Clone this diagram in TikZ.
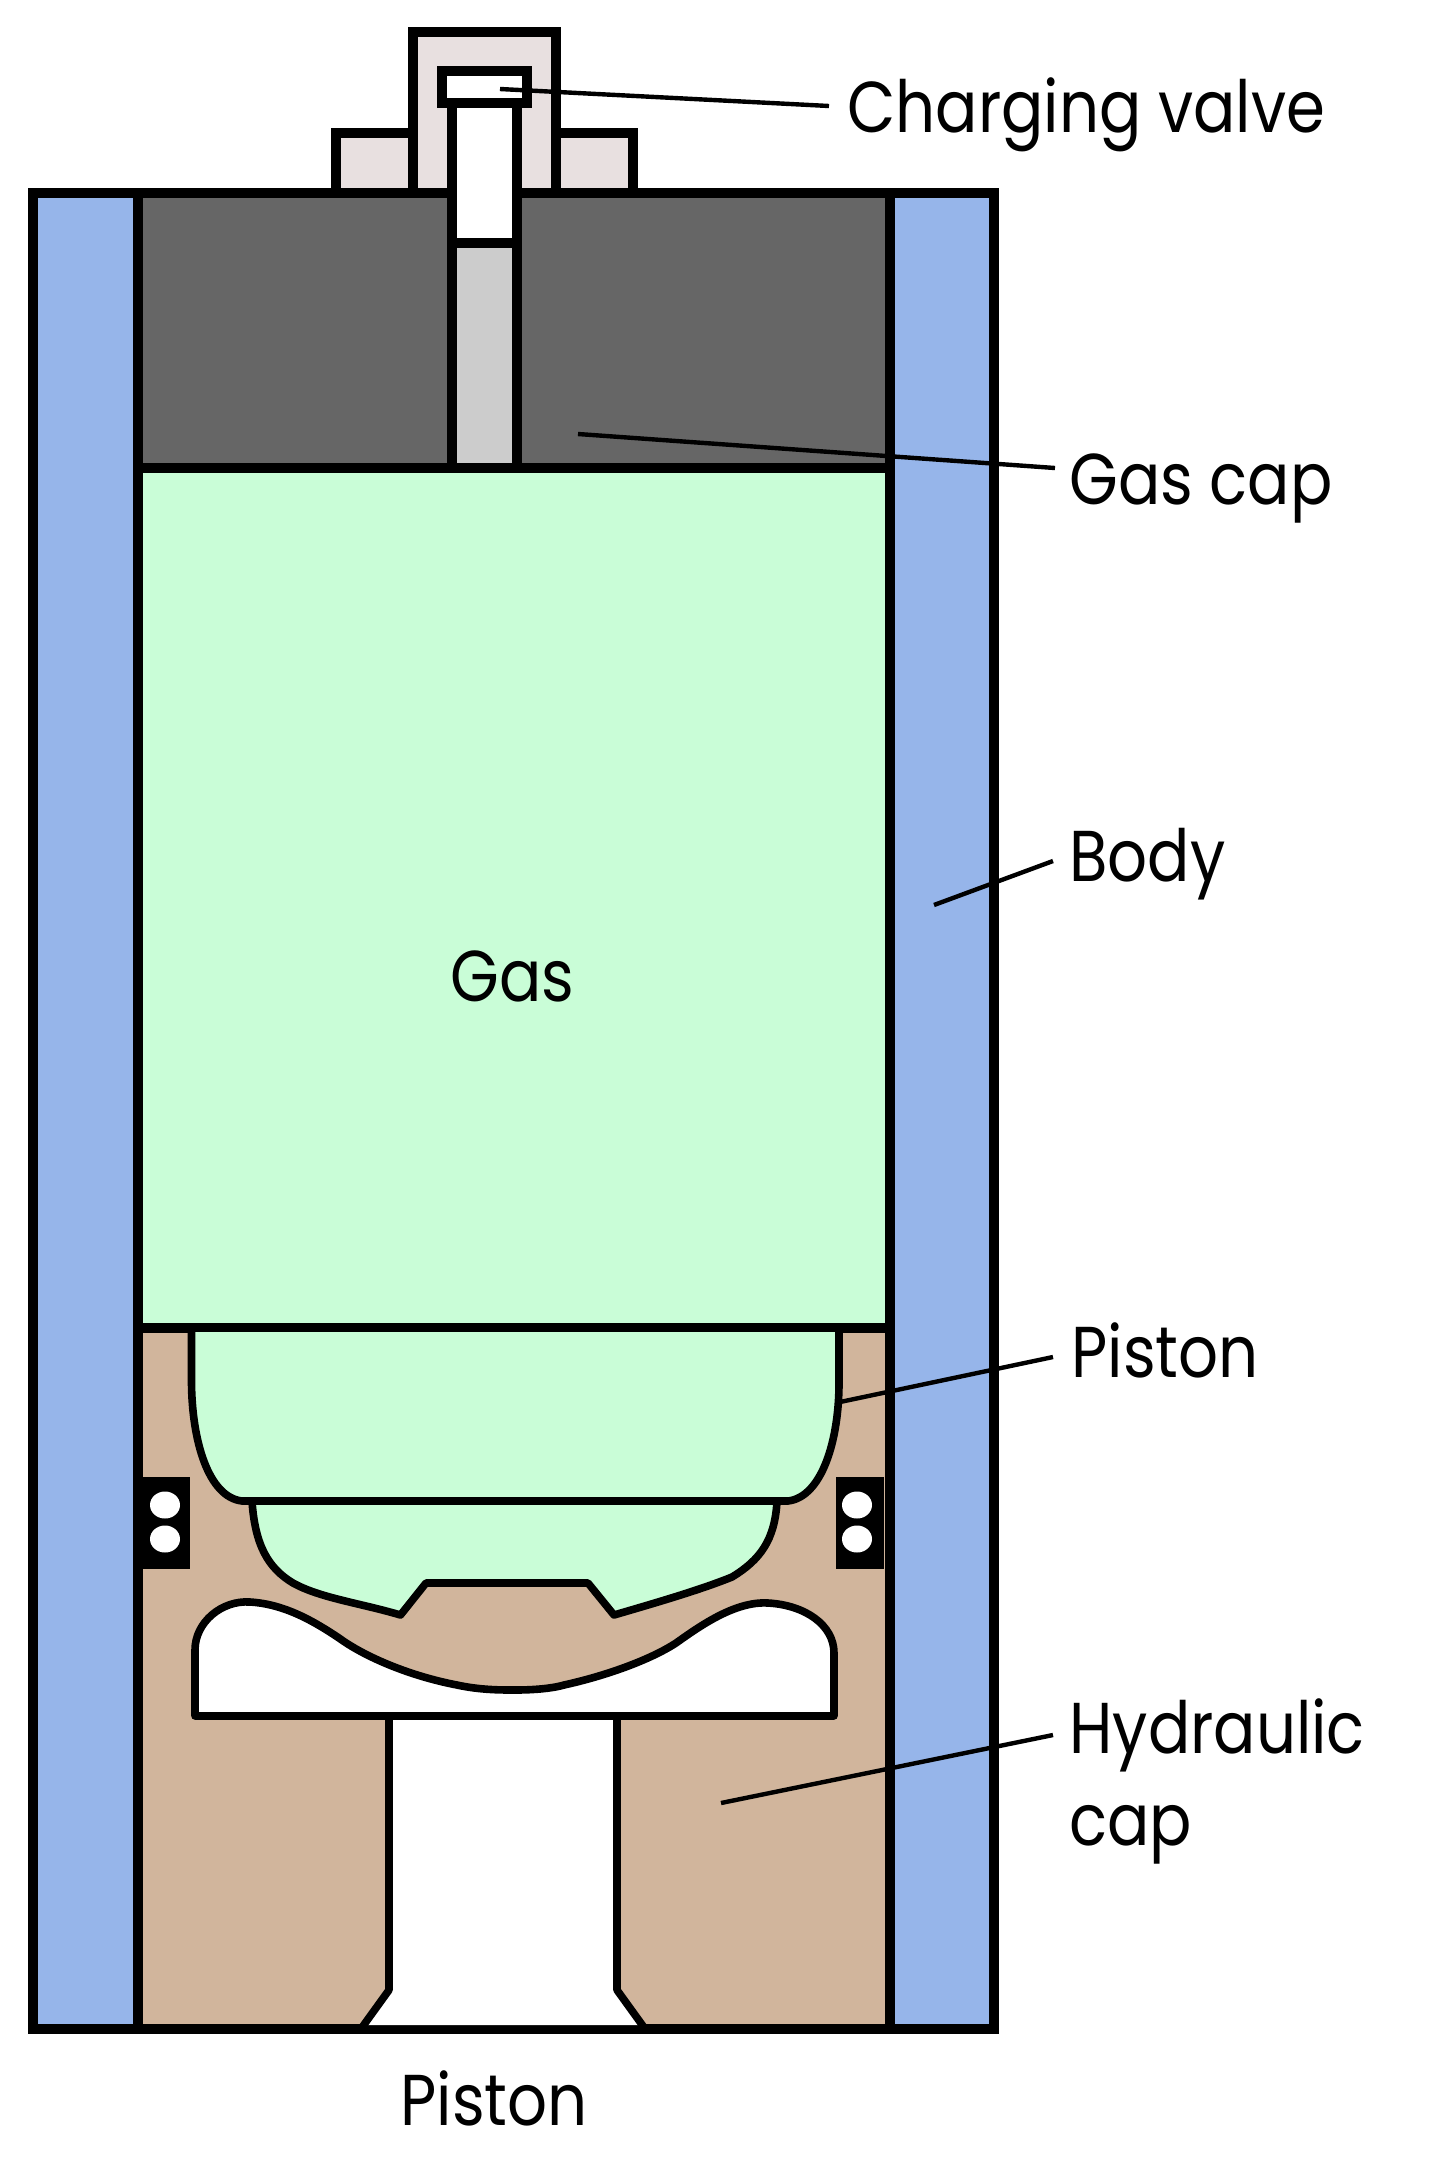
\documentclass[tikz,border=0pt]{standalone}
\usepackage{fontspec}
\setmainfont{Poppins}[FakeStretch=0.87]
\definecolor{capgrey}{HTML}{666666}
\definecolor{stemgrey}{HTML}{CCCCCC}
\definecolor{gasgreen}{HTML}{C9FDD7}
\definecolor{bodyblue}{HTML}{96B5EA}
\definecolor{hydtan}{HTML}{D1B59C}
\definecolor{valvepink}{HTML}{E8E0E0}
\tikzset{
  part/.style={draw=black,line width=5pt,line join=miter},
  thin part/.style={draw=black,line width=3.8pt,line join=round},
  leader/.style={draw=black,line width=2.2pt},
  label/.style={font=\fontsize{36}{42}\selectfont,anchor=base west,inner sep=0pt,text=black},
}
\begin{document}
\begin{tikzpicture}[x=0.5pt,y=-0.5pt]
\useasboundingbox (0,0) rectangle (1440,2159);
% valve housing and lugs
\path[part,fill=valvepink] (335.5,193) -- (335.5,132.5) -- (633,132.5) -- (633,193) -- cycle;
\path[part,fill=valvepink] (413,193) -- (413,32) -- (555.5,32) -- (555.5,193) -- cycle;
% outer body
\path[part,fill=bodyblue] (33,193) rectangle (994,2029);
% gas cap
\path[part,fill=capgrey] (138,193) rectangle (890,468);
% gas chamber
\path[part,fill=gasgreen] (138,468) rectangle (890,1328);
% hydraulic cap
\path[part,fill=hydtan] (138,1328) rectangle (890,2029);
% piston upper
\path[thin part,fill=gasgreen]
  (191.5,1328) -- (191.5,1383) .. controls (192,1440) and (208,1497) .. (242,1501)
  -- (788,1501) .. controls (822,1497) and (839,1440) .. (839,1383) -- (839,1328) -- cycle;
% piston lower
\path[thin part,fill=gasgreen]
  (252,1501) .. controls (255,1545) and (268,1568) .. (293,1583)
  .. controls (320,1598) and (360,1603) .. (400.5,1615)
  -- (426,1583) -- (588,1583) -- (614,1615)
  .. controls (655,1603) and (700,1590) .. (732,1577)
  .. controls (760,1560) and (775,1540) .. (777,1501) -- cycle;
% piston rod bore
\fill[white] (363,2025) -- (389,1990) -- (389,1716) -- (617,1716) -- (617,1990) -- (643,2025) -- cycle;
\draw[thin part] (363,2026) -- (389,1990) -- (389,1716);
\draw[thin part] (643,2026) -- (617,1990) -- (617,1716);
% fluid chamber
\path[thin part,fill=white]
  (195,1716) -- (195,1650) .. controls (195,1622) and (222,1600) .. (250,1602)
  .. controls (285,1604) and (315,1622) .. (339,1638)
  .. controls (365,1657) and (410,1676) .. (457,1685)
  .. controls (480,1690) and (500,1690) .. (515,1690)
  .. controls (530,1690) and (550,1689) .. (564,1685)
  .. controls (605,1676) and (650,1660) .. (676,1643)
  .. controls (700,1626) and (735,1601) .. (768,1603)
  .. controls (805,1605) and (834,1625) .. (834,1653) -- (834,1716) -- cycle;
% seals
\fill[black] (135,1477) rectangle (190,1569);
\fill[black] (836,1477) rectangle (884,1569);
\fill[white] (165,1505) ellipse [x radius=15,y radius=13.5];
\fill[white] (165,1539) ellipse [x radius=15,y radius=13.5];
\fill[white] (857,1505) ellipse [x radius=15,y radius=13.5];
\fill[white] (857,1539) ellipse [x radius=15,y radius=13.5];
% charging stem
\path[part,fill=stemgrey] (452,243) rectangle (516.5,468);
\path[part,fill=white] (452,103) rectangle (516.5,243);
\path[part,fill=white] (441.5,71) rectangle (526.5,103);
% labels
\node[label] (cv)   at (847,132)   {Charging valve};
\node[label] (gc)   at (1069,504)  {Gas cap};
\node[label] (bd)   at (1069,881)  {Body};
\node[label] (pn)   at (1071,1377) {Piston};
\node[label] (hy)   at (1069,1753) {Hydraulic};
\node[label] (hc)   at (1069,1845) {cap};
\node[label] (gs)   at (450,1001)  {Gas};
\node[label] (pb)   at (400,2125)  {Piston};
% leader tips
\coordinate (cvTip) at (500,89);
\coordinate (gcTip) at (578,434);
\coordinate (bdTip) at (934,905);
\coordinate (pnTip) at (840,1402);
\coordinate (hyTip) at (721,1803);
\coordinate (cvEnd) at ([xshift=-9pt,yshift=13pt]cv.base west);
\coordinate (gcEnd) at ([xshift=-7pt,yshift=18pt]gc.base west);
\coordinate (bdEnd) at ([xshift=-8pt,yshift=10pt]bd.base west);
\coordinate (pnEnd) at ([xshift=-9pt,yshift=10pt]pn.base west);
\coordinate (hyEnd) at ([xshift=-8pt,yshift=9pt]hy.base west);
\draw[leader] (cvTip) -- (cvEnd);
\draw[leader] (gcTip) -- (gcEnd);
\draw[leader] (bdTip) -- (bdEnd);
\draw[leader] (pnTip) -- (pnEnd);
\draw[leader] (hyTip) -- (hyEnd);
\end{tikzpicture}
\end{document}
